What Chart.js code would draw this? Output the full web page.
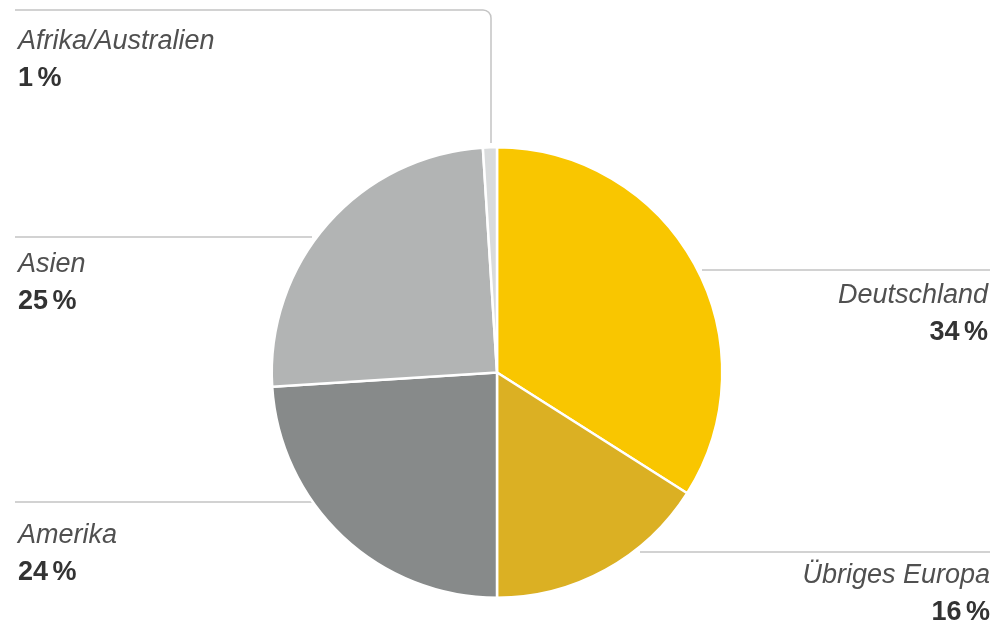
<!DOCTYPE html>
<html lang="de">
<head>
<meta charset="utf-8">
<title>Umsatz nach Regionen</title>
<script src="https://cdn.jsdelivr.net/npm/chart.js@4.4.1/dist/chart.umd.min.js"></script>
<style>
  html, body { margin: 0; padding: 0; background: #fff; }
  #wrap { position: relative; width: 996px; height: 629px; overflow: hidden; }
  #pieChart { position: absolute; left: 0; top: 0; }
  .lbl { position: absolute; font-family: "Liberation Sans", Arial, sans-serif; white-space: nowrap; }
  .lbl .name { font-style: italic; font-size: 27px; line-height: 27px; color: #505050; }
  .lbl .val { font-weight: bold; font-size: 27px; line-height: 27px; color: #333; margin-top: 10px; word-spacing: -3px; }
  .lbl.right { text-align: right; }
</style>
</head>
<body>
<div id="wrap">
  <canvas id="pieChart" width="996" height="629"></canvas>
</div>
<script>
// Anteile in Prozent, im Uhrzeigersinn ab 12 Uhr
const regions = ['Deutschland', 'Übriges Europa', 'Amerika', 'Asien', 'Afrika/Australien'];
const shares = [34, 16, 24, 25, 1];
const sliceColors = ['#f9c600', '#dbb023', '#878a8a', '#b2b4b4', '#d9dbdc'];

// Position der Beschriftungen (links/rechts, oben)
const labelPos = [
  { right: 8, top: 281 },
  { right: 6, top: 561 },
  { left: 18, top: 521 },
  { left: 18, top: 250 },
  { left: 18, top: 27 }
];

const wrap = document.getElementById('wrap');
regions.forEach((name, i) => {
  const p = labelPos[i];
  const div = document.createElement('div');
  div.className = 'lbl' + (p.right !== undefined ? ' right' : '');
  if (p.right !== undefined) div.style.right = p.right + 'px';
  else div.style.left = p.left + 'px';
  div.style.top = p.top + 'px';
  div.innerHTML = '<div class="name"></div><div class="val"></div>';
  div.querySelector('.name').textContent = name;
  div.querySelector('.val').textContent = shares[i] + ' %';
  wrap.appendChild(div);
});

// dünne graue Führungslinien
const leaderLines = {
  id: 'leaderLines',
  beforeDraw(chart) {
    const c = chart.ctx;
    c.save();
    c.strokeStyle = '#c4c4c4';
    c.lineWidth = 1.5;
    c.beginPath();
    // Afrika/Australien mit abgerundeter Ecke
    c.moveTo(15, 10);
    c.lineTo(483, 10);
    c.arcTo(491, 10, 491, 18, 8);
    c.lineTo(491, 143);
    // Asien
    c.moveTo(15, 237);
    c.lineTo(312, 237);
    // Amerika
    c.moveTo(15, 502);
    c.lineTo(322, 502);
    // Deutschland
    c.moveTo(702, 270);
    c.lineTo(990, 270);
    // Übriges Europa
    c.moveTo(640, 552);
    c.lineTo(990, 552);
    c.stroke();
    c.restore();
  }
};

new Chart(document.getElementById('pieChart'), {
  type: 'pie',
  data: {
    labels: regions,
    datasets: [{
      data: shares,
      backgroundColor: sliceColors,
      borderColor: '#ffffff',
      borderWidth: 2.5
    }]
  },
  options: {
    responsive: false,
    animation: false,
    layout: {
      padding: { top: 146, bottom: 30, left: 0, right: 2 }
    },
    plugins: {
      legend: { display: false },
      tooltip: { enabled: false }
    }
  },
  plugins: [leaderLines]
});
</script>
</body>
</html>
